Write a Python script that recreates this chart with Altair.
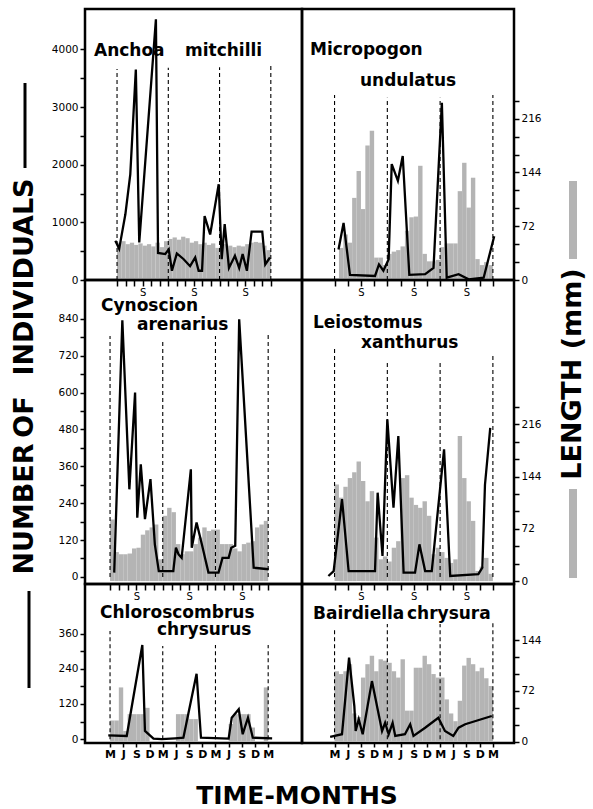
import altair as alt
import pandas as pd

FONT = "DejaVu Sans"
GRAY = "#b4b4b4"

# ---------------- data ----------------
# time axis: months counted from March of the first year (dashed lines = each March)
bar_month = list(range(36))
year_march = [0, 12, 24, 36]
quarter_ticks = list(range(0, 37, 3))
bimonth_ticks = list(range(0, 37, 2))

# Anchoa mitchilli
anchoa_t = [-0.4, 0.5, 1.95, 3.1, 4.4, 5.2, 9.1, 9.6, 11.3, 12.1, 12.85, 14.0, 15.6, 17.1, 18.3,
            19.1, 19.9, 20.5, 21.8, 23.8, 24.5, 25.2, 26.2, 27.6, 28.6, 29.4, 30.4, 31.5, 34.0, 34.7, 35.8]
anchoa_n = [680, 540, 1140, 1830, 3650, 650, 4520, 470, 450, 530, 160, 460, 360, 240, 390,
            160, 160, 1110, 790, 1660, 360, 970, 210, 420, 210, 450, 160, 840, 840, 270, 390]
anchoa_len = [50, 52, 48, 50, 47, 49, 46, 48, 45, 50, 44, 52, 55, 57, 54, 58, 56, 50,
              52, 48, 50, 47, 49, 43, 45, 48, 46, 44, 46, 45, 48, 50, 51, 50, 46, 40]
anchoa_dash = [3660, 3680, 3690, 3760]

# Micropogon undulatus
micro_t = [0.9, 2.05, 3.5, 9.2, 10.1, 11.1, 12.3, 13.0, 14.4, 15.5, 17.0, 20.6, 22.5, 24.4,
           25.5, 28.2, 30.5, 33.9, 36.3]
micro_n = [530, 990, 90, 70, 270, 160, 360, 2010, 1720, 2150, 90, 100, 210, 3075,
           40, 100, 12, 40, 760]
micro_len = [0, 43, 61, 50, 110, 146, 95, 180, 200, 30, 30, 20, 35, 38, 40, 45, 66, 84,
             85, 153, 35, 25, 25, 27, 44, 49, 49, 49, 119, 157, 97, 137, 28, 20, 24, 20]
micro_dash = [3210, 3160, 3160, 3210]

# Cynoscion arenarius
cyno_t = [0.95, 2.8, 4.4, 5.7, 6.2, 7.0, 7.95, 9.2, 10.2, 11.1, 14.4, 15.0, 15.6, 16.3, 18.4,
          18.6, 19.7, 20.9, 22.4, 24.7, 25.6, 27.0, 27.6, 28.5, 29.4, 32.7, 36.1]
cyno_n = [14, 835, 285, 600, 193, 366, 188, 318, 106, 19, 19, 95, 73, 62, 350,
          95, 177, 106, 14, 14, 62, 62, 95, 101, 838, 30, 25]
cyno_len = [85, 40, 37, 37, 38, 45, 46, 64, 70, 74, 78, 30, 90, 101, 95, 51, 37, 41,
            41, 51, 60, 74, 69, 71, 71, 51, 51, 51, 45, 41, 51, 53, 55, 74, 78, 83]
cyno_dash = [784, 774, 784, 797]

# Leiostomus xanthurus
leio_t = [-1.4, -0.2, 1.7, 3.2, 9.2, 9.8, 10.9, 12.0, 13.4, 14.5, 15.7, 18.3, 19.3, 20.6,
          22.1, 24.9, 26.3, 32.7, 33.6, 34.2, 35.4]
leio_n = [3, 19, 253, 19, 19, 274, 68, 513, 225, 458, 14, 14, 106, 19,
          19, 415, 3, 9, 30, 300, 485]
leio_len = [133, 115, 130, 142, 150, 165, 138, 110, 124, 60, 30, 34, 27, 46, 55, 142, 146, 115,
            105, 101, 110, 90, 37, 46, 40, 32, 25, 30, 200, 142, 110, 83, 14, 20, 32, 10]
leio_dash = [742, 702, 706, 719]

# Chloroscombrus chrysurus
chlo_t = [-0.4, 3.8, 7.35, 7.95, 9.9, 11.8, 14.8, 16.7, 19.7, 20.7, 27.0, 27.7, 29.3, 30.2,
          31.4, 32.5, 36.9]
chlo_n = [13, 11, 321, 28, 2, 0, 3, 5, 223, 5, 2, 73, 102, 17, 73, 5, 3]
chlo_len = [30, 30, 77, 15, 39, 39, 39, 39, 48, 0, 0, 0, 0, 0, 0, 39, 39, 39,
            32, 32, 0, 0, 0, 0, 0, 0, 0, 25, 39, 39, 39, 39, 20, 0, 0, 77]
chlo_dash = [369, 318, 321, 321]

# Bairdiella chrysura
bair_t = [-1.0, 1.7, 3.3, 4.5, 4.8, 5.5, 6.4, 8.5, 10.8, 11.5, 12.3, 13.2, 13.8, 16.0, 17.2,
          17.95, 20.6, 23.6, 25.1, 27.0, 28.2, 29.7, 35.75]
bair_n = [8, 17, 278, 113, 28, 68, 17, 198, 28, 56, 17, 56, 11, 17, 51,
          11, 39, 73, 28, 11, 39, 51, 79]
bair_len = [100, 96, 100, 110, 40, 35, 91, 110, 122, 100, 117, 115, 112, 100, 91, 117, 44, 44,
            105, 105, 122, 110, 96, 91, 91, 60, 40, 29, 58, 108, 119, 110, 100, 105, 90, 79]
bair_dash = [379, 393, 393, 396]


def x_axis(bottom_row, ticks):
    if bottom_row:
        return alt.Axis(orient="bottom", values=ticks, title=None, grid=False, domain=False,
                        labelExpr="['M','J','S','D'][(datum.value/3)%4]", labelAngle=0,
                        labelOverlap=False, labelFlush=False, tickSize=4, tickWidth=1.5,
                        tickColor="black", labelPadding=1, labelFont=FONT, labelFontSize=11,
                        labelFontWeight="bold", labelColor="black")
    return alt.Axis(orient="bottom", values=ticks, title=None, grid=False, domain=False,
                    labelExpr="datum.value % 12 === 6 ? 'S' : ''", labelAngle=0,
                    labelOverlap=False, labelFlush=False, tickSize=6, tickWidth=1.5,
                    tickColor="black", labelPadding=1, labelFont=FONT, labelFontSize=10,
                    labelColor="black")


def y_axis(orient, values, expr):
    return alt.Axis(orient=orient, values=values, labelExpr=expr, format="d", title=None,
                    grid=False, domain=False, tickSize=5, tickWidth=1.5, tickColor="black",
                    labelPadding=2, labelOverlap=False, labelFont=FONT, labelFontSize=10.5,
                    labelColor="black")


def word(w, x, y, size=17, angle=0, align="left", baseline="alphabetic"):
    return alt.Chart(pd.DataFrame({"w": [w]})).mark_text(
        align=align, baseline=baseline, font=FONT, fontSize=size, fontWeight="bold",
        color="black", angle=angle).encode(text="w:N", x=alt.value(x), y=alt.value(y))


def panel(t_line, n_line, lengths, dash_tops, n_dom, len_dom, x_dom, width, height,
          words, bottom_row, ticks, n_axis=None, len_axis=None, extras=()):
    xs = alt.Scale(domain=x_dom, nice=False, zero=False)
    xa = x_axis(bottom_row, ticks)
    ns = alt.Scale(domain=n_dom, nice=False, zero=False)
    ls = alt.Scale(domain=len_dom, nice=False, zero=False)

    bars_df = pd.DataFrame({"t0": bar_month, "t1": [m + 1 for m in bar_month],
                            "len": lengths, "base": [0] * len(bar_month)})
    bars = alt.Chart(bars_df).mark_rect(color=GRAY).encode(
        x=alt.X("t0:Q", scale=xs, axis=xa), x2="t1:Q",
        y=alt.Y("len:Q", scale=ls, axis=len_axis), y2="base:Q")

    dash_df = pd.DataFrame({"t": year_march, "top": dash_tops, "base": [0] * 4})
    dashes = alt.Chart(dash_df).mark_rule(color="black", strokeWidth=1.1,
                                          strokeDash=[4, 3]).encode(
        x=alt.X("t:Q", scale=xs, axis=xa),
        y=alt.Y("base:Q", scale=ns, axis=None), y2="top:Q")

    line_df = pd.DataFrame({"t": t_line, "n": n_line})
    line = alt.Chart(line_df).mark_line(color="black", strokeWidth=2.3).encode(
        x=alt.X("t:Q", scale=xs, axis=xa),
        y=alt.Y("n:Q", scale=ns, axis=n_axis))

    texts = [word(w, x, y) for (w, x, y) in words]
    return alt.layer(bars, dashes, line, *texts, *extras).resolve_scale(
        y="independent").properties(width=width, height=height)


LEFT_W, RIGHT_W = 217, 212
H1, H2, H3 = 271, 304, 159
left_dom1 = [-7.5, 43.3]
left_dom = [-5.7, 43.7]
right_dom = [-7.4, 40.8]

len_ticks = list(range(0, 241, 24))
len_expr = "datum.value % 72 === 0 ? datum.label : ''"

# decorations outside the frames
row1_left_extras = [
    word("INDIVIDUALS", -60, 268, size=27, angle=270, align="center", baseline="middle"),
    word("OF", -60, 408, size=27, angle=270, align="center", baseline="middle"),
    word("NUMBER", -60, 500, size=27, angle=270, align="center", baseline="middle"),
    alt.Chart(pd.DataFrame({"k": [0]})).mark_rule(color="black", strokeWidth=3).encode(
        x=alt.value(-60), y=alt.value(74), y2=alt.value(159)),
    alt.Chart(pd.DataFrame({"k": [0]})).mark_rule(color="black", strokeWidth=3).encode(
        x=alt.value(-56), y=alt.value(582), y2=alt.value(679)),
]
row1_right_extras = [
    word("LENGTH (mm)", 271, 365, size=27, angle=270, align="center", baseline="middle"),
    alt.Chart(pd.DataFrame({"k": [0]})).mark_rect(color=GRAY).encode(
        x=alt.value(267), x2=alt.value(275), y=alt.value(172), y2=alt.value(250)),
    alt.Chart(pd.DataFrame({"k": [0]})).mark_rect(color=GRAY).encode(
        x=alt.value(267), x2=alt.value(275), y=alt.value(480), y2=alt.value(569)),
]
row3_left_extras = [
    word("TIME-MONTHS", 212, 212, size=25, align="center", baseline="middle"),
]

p11 = panel(anchoa_t, anchoa_n, anchoa_len, anchoa_dash, [0, 4700], [0, 363], left_dom1,
            LEFT_W, H1, [("Anchoa", 9, 47), ("mitchilli", 100, 47)], False, bimonth_ticks,
            n_axis=y_axis("left", list(range(0, 4001, 500)),
                          "datum.value % 1000 === 0 ? datum.label : ''"),
            extras=row1_left_extras)
p12 = panel(micro_t, micro_n, micro_len, micro_dash, [0, 4700], [0, 363], right_dom,
            RIGHT_W, H1, [("Micropogon", 8, 46), ("undulatus", 58, 77)], False, quarter_ticks,
            len_axis=y_axis("right", len_ticks, len_expr), extras=row1_right_extras)
p21 = panel(cyno_t, cyno_n, cyno_len, cyno_dash, [-23, 966], [-4, 415], left_dom,
            LEFT_W, H2, [("Cynoscion", 16, 31), ("arenarius", 52, 50)], False, bimonth_ticks,
            n_axis=y_axis("left", list(range(0, 841, 60)),
                          "datum.value % 120 === 0 ? datum.label : ''"))
p22 = panel(leio_t, leio_n, leio_len, leio_dash, [-23, 966], [-4, 415], right_dom,
            RIGHT_W, H2, [("Leiostomus", 11, 48), ("xanthurus", 59, 68)], False, quarter_ticks,
            len_axis=y_axis("right", len_ticks, len_expr))
p31 = panel(chlo_t, chlo_n, chlo_len, chlo_dash, [-13, 529], [-2, 224], left_dom,
            LEFT_W, H3, [("Chloroscombrus", 15, 34), ("chrysurus", 72, 51)], True, quarter_ticks,
            n_axis=y_axis("left", list(range(0, 361, 60)),
                          "datum.value % 120 === 0 ? datum.label : ''"),
            extras=row3_left_extras)
p32 = panel(bair_t, bair_n, bair_len, bair_dash, [-13, 529], [-2, 224], right_dom,
            RIGHT_W, H3, [("Bairdiella", 11, 35), ("chrysura", 105, 35)], True, quarter_ticks,
            len_axis=y_axis("right", list(range(0, 145, 24)), len_expr))

chart = alt.concat(p11, p12, p21, p22, p31, p32, columns=2, spacing=0,
                   bounds="flush").properties(
    padding={"left": 9, "top": 7, "right": 4, "bottom": 4},
    background="white",
).configure_view(stroke="black", strokeWidth=2.5)

chart.save("out.html", embed_options={"renderer": "svg", "actions": False})
